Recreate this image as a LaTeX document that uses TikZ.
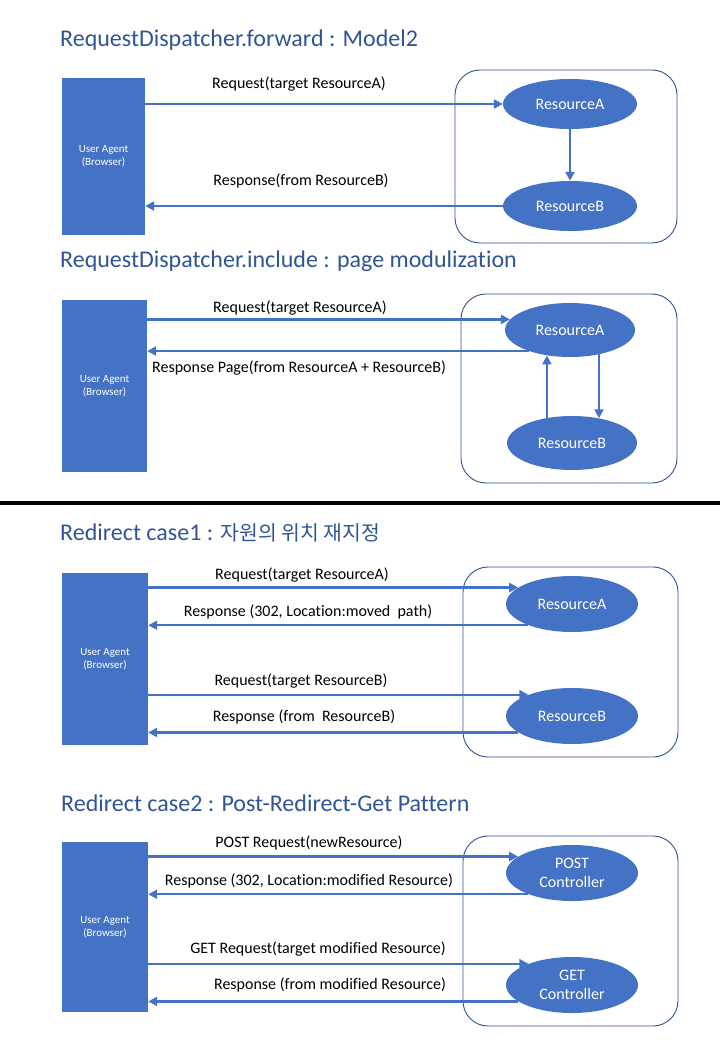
\documentclass[tikz,border=0pt]{standalone}
\usepackage{fontspec}
\setmainfont[Ligatures=NoCommon]{Carlito}
\newfontfamily\krfont[Scale=0.85]{Noto Sans CJK KR}
\usetikzlibrary{arrows.meta,shapes.geometric,positioning}
\definecolor{OfficeBlue}{HTML}{4472C4}
\definecolor{TitleBlue}{HTML}{2F5597}
\definecolor{FrameBlue}{HTML}{2F528F}

\begin{document}
\begin{tikzpicture}[x=1pt,y=-1pt]
	\tikzstyle{Agent}	= [rectangle, fill=OfficeBlue, text=white, font=\fontsize{11}{13}\selectfont, align=center, inner sep=0pt]
	\tikzstyle{Res}		= [ellipse, fill=OfficeBlue, text=white, font=\fontsize{16}{19}\selectfont, align=center, inner sep=0pt]
	\tikzstyle{Frame}	= [rectangle, draw=FrameBlue, line width=0.9pt, rounded corners=25pt, inner sep=0pt]
	\tikzstyle{Title}	= [anchor=west, text=TitleBlue, font=\fontsize{24}{28}\selectfont, inner sep=0pt]
	\tikzstyle{Label}	= [font=\fontsize{16}{19}\selectfont, inner sep=0pt]
	\tikzstyle{Msg}		= [draw=OfficeBlue, line width=2.2pt, -{Triangle[length=9pt,width=9pt]}]

	\useasboundingbox (0,0) rectangle (720,1040);

	% titles
	\node (t1) at (60,40) [Title] {RequestDispatcher.forward : Model2};
	\node (t2) at (60,261) [Title] {RequestDispatcher.include : page modulization};
	\node (t3) at (60,533) [Title] {Redirect case1 : {\krfont 자원의 위치 재지정}};
	\node (t4) at (61,803) [Title] {Redirect case2 : Post-Redirect-Get Pattern};

	\draw [line width=4pt] (0,503) -- (720,503);

	% forward
	\node (f1) at (566,156.5) [Frame, minimum width=222pt, minimum height=173pt] {};
	\node (ua1) at (103.5,156.5) [Agent, minimum width=83pt, minimum height=157pt] {User Agent\\(Browser)};
	\node (ra1) at (570,104) [Res, minimum width=134pt, minimum height=50pt] {ResourceA};
	\node (rb1) at (570,206) [Res, minimum width=134pt, minimum height=50pt] {ResourceB};
	\node (l11) at (299,84) [Label] {Request(target ResourceA)};
	\node (l12) at (301,181) [Label] {Response(from ResourceB)};
	\draw [Msg] (ua1.east |- ra1.west) -- (ra1.west);
	\draw [Msg] (ra1.south) -- (rb1.north);
	\draw [Msg] (rb1.west) -- (rb1.west -| ua1.east);

	% include
	\node (f2) at (569,388.5) [Frame, minimum width=216pt, minimum height=189pt] {};
	\node (ua2) at (104.5,386) [Agent, minimum width=85pt, minimum height=172pt] {User Agent\\(Browser)};
	\node (ra2) at (570,330) [Res, minimum width=130pt, minimum height=54pt] {ResourceA};
	\node (rb2) at (572,443) [Res, minimum width=130pt, minimum height=54pt] {ResourceB};
	\node (l21) at (300,308) [Label] {Request(target ResourceA)};
	\node (l22) at (299,368) [Label] {Response Page(from ResourceA + ResourceB)};
	\draw [Msg] (ua2.east |- ra2.170) -- (ra2.170);
	\draw [Msg] (ra2.207) -- (ra2.207 -| ua2.east);
	\draw [Msg] (rb2.135) -- (rb2.135 |- ra2.228);
	\draw [Msg] (ra2.-40) -- (ra2.-40 |- rb2.42);

	% redirect case1
	\node (f3) at (570.5,662) [Frame, minimum width=215pt, minimum height=190pt] {};
	\node (ua3) at (105,659) [Agent, minimum width=86pt, minimum height=172pt] {User Agent\\(Browser)};
	\node (ra3) at (572,604) [Res, minimum width=132pt, minimum height=56pt] {ResourceA};
	\node (rb3) at (572,716) [Res, minimum width=132pt, minimum height=56pt] {ResourceB};
	\node (l31) at (302,575) [Label] {Request(target ResourceA)};
	\node (l32) at (308,612) [Label] {Response (302, Location:moved~ path)};
	\node (l33) at (301,681) [Label] {Request(target ResourceB)};
	\node (l34) at (304,717) [Label] {Response (from~ ResourceB)};
	\draw [Msg] (ua3.east |- ra3.163) -- (ra3.163);
	\draw [Msg] (ra3.206) -- (ra3.206 -| ua3.east);
	\draw [Msg] (ua3.east |- rb3.154) -- (rb3.154);
	\draw [Msg] (rb3.197) -- (rb3.197 -| ua3.east);

	% redirect case2
	\node (f4) at (570.5,931) [Frame, minimum width=215pt, minimum height=190pt] {};
	\node (ua4) at (105,927) [Agent, minimum width=86pt, minimum height=170pt] {User Agent\\(Browser)};
	\node (pc4) at (572,873) [Res, minimum width=132pt, minimum height=56pt] {POST\\Controller};
	\node (gc4) at (572,985) [Res, minimum width=132pt, minimum height=56pt] {GET\\Controller};
	\node (l41) at (309,843) [Label] {POST Request(newResource)};
	\node (l42) at (309,881) [Label] {Response (302, Location:modified Resource)};
	\node (l43) at (318,949) [Label] {GET Request(target modified Resource)};
	\node (l44) at (330,985) [Label] {Response (from modified Resource)};
	\draw [Msg] (ua4.east |- pc4.163) -- (pc4.163);
	\draw [Msg] (pc4.206) -- (pc4.206 -| ua4.east);
	\draw [Msg] (ua4.east |- gc4.154) -- (gc4.154);
	\draw [Msg] (gc4.197) -- (gc4.197 -| ua4.east);
\end{tikzpicture}
\end{document}
